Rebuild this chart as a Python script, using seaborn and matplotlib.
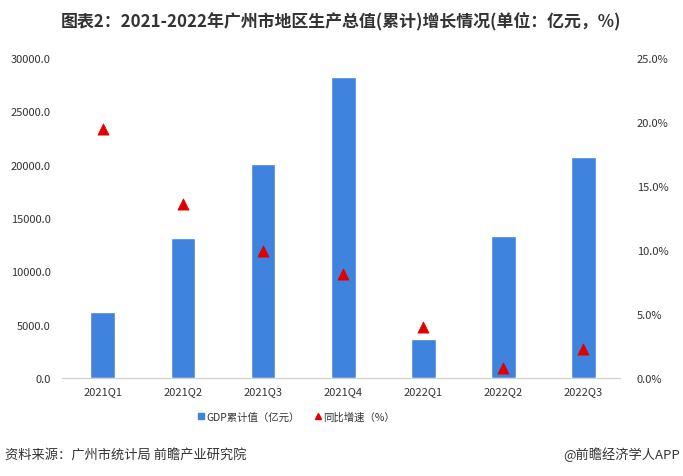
import matplotlib
matplotlib.use('Agg')
import matplotlib.pyplot as plt
from matplotlib.lines import Line2D
from matplotlib.ticker import FuncFormatter, MultipleLocator
import seaborn as sns
import pandas as pd

# 数据
quarters = ['2021Q1', '2021Q2', '2021Q3', '2021Q4', '2022Q1', '2022Q2', '2022Q3']
gdp_cum = [6230, 13100, 20030, 28232, 3700, 13312, 20700]
growth = [19.5, 13.6, 9.9, 8.1, 4.0, 0.8, 2.3]

bar_color = '#3F83DE'
tri_color = '#E00000'

sns.set_theme(style='white')
plt.rcParams['font.family'] = ['Noto Sans CJK SC', 'DejaVu Sans']
plt.rcParams['axes.unicode_minus'] = False

df = pd.DataFrame({'季度': quarters, 'GDP': gdp_cum, '增速': growth})

fig = plt.figure(figsize=(6.83, 4.77), dpi=100)
ax = fig.add_axes([0.0908, 0.2055, 0.8172, 0.6705])

sns.barplot(data=df, x='季度', y='GDP', color=bar_color, width=0.31,
            saturation=1, ax=ax)
ax.set_ylim(0, 30000)
ax.set_xlim(-0.51, 6.46)
ax.yaxis.set_major_locator(MultipleLocator(5000))
ax.yaxis.set_major_formatter(FuncFormatter(lambda v, p: f'{v:.1f}'))
ax.set_xlabel('')
ax.set_ylabel('')

ax2 = ax.twinx()
sns.scatterplot(data=df, x='季度', y='增速', marker='^', s=65,
                color=tri_color, edgecolor=tri_color, linewidth=0.5,
                ax=ax2, zorder=5)
ax2.set_ylim(0, 25)
ax2.yaxis.set_major_locator(MultipleLocator(5))
ax2.yaxis.set_major_formatter(FuncFormatter(lambda v, p: f'{v:.1f}%'))
ax2.set_ylabel('')
ax2.set_xlim(-0.51, 6.46)

for a in (ax, ax2):
    for side in ('top', 'left', 'right'):
        a.spines[side].set_visible(False)
    a.spines['bottom'].set_color('#D0D0D0')
    a.spines['bottom'].set_linewidth(0.8)
    a.tick_params(axis='both', length=0, labelsize=8, colors='#333333')
    a.grid(False)
ax.tick_params(axis='y', pad=8)
ax2.tick_params(axis='y', pad=12)
ax.tick_params(axis='x', pad=6)

fig.text(0.5, 0.955, '图表2：2021-2022年广州市地区生产总值(累计)增长情况(单位：亿元，%)',
         ha='center', va='center', fontsize=12.2, fontweight='bold', color='#333333')

handles = [
    Line2D([], [], marker='s', linestyle='', color=bar_color, markersize=5,
           label='GDP累计值（亿元）'),
    Line2D([], [], marker='^', linestyle='', color=tri_color, markersize=4,
           label='同比增速（%）'),
]
fig.legend(handles=handles, loc='center', bbox_to_anchor=(0.432, 0.125), ncol=2,
           frameon=False, fontsize=7.5, handletextpad=0.0, columnspacing=1.2,
           handlelength=1.1, labelcolor='#333333')

fig.text(0.008, 0.046, '资料来源：广州市统计局 前瞻产业研究院', ha='left', va='center',
         fontsize=9.5, color='#333333')
fig.text(0.995, 0.046, '@前瞻经济学人APP', ha='right', va='center',
         fontsize=9.5, color='#333333')

fig.savefig('out.png', dpi=100)
